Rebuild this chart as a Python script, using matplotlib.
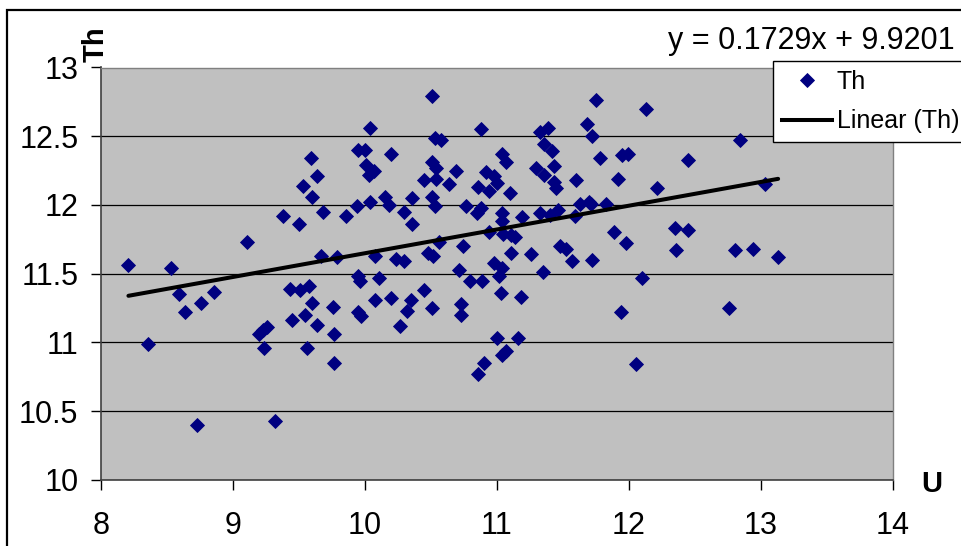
import matplotlib
matplotlib.use("Agg")
import matplotlib.pyplot as plt
from matplotlib.lines import Line2D
from matplotlib.patches import Rectangle
import numpy as np

plt.rcParams['font.family'] = ['Liberation Sans', 'DejaVu Sans']

u_values = [
    9.59, 9.64, 9.53, 9.60, 9.68, 9.38, 9.50, 9.11, 9.67, 9.79,
    8.21, 8.53, 8.59, 8.64, 8.76, 8.86, 8.36, 9.43, 9.51, 9.58, 9.60, 9.55, 9.45, 9.64,
    9.20, 9.23, 9.26, 9.24, 9.56, 8.73, 9.32,
    10.51, 10.04, 10.88, 11.33, 11.39, 10.53, 10.58, 9.95, 10.00, 10.20, 11.04, 11.07,
    11.36, 11.42, 10.51, 10.54, 10.01, 10.07, 10.03, 10.69, 11.30, 11.36, 11.43, 10.45,
    10.54, 10.92, 10.98, 11.00, 10.64, 10.86, 10.94, 11.10, 11.43, 11.45, 10.15, 10.18,
    10.36, 10.51, 10.53, 10.04, 9.94, 9.86, 10.30, 10.36, 10.77, 10.85, 10.88, 11.04,
    11.04, 11.19, 11.33, 11.40, 11.46, 10.94, 11.05, 11.11, 11.14, 10.56, 10.74, 11.48,
    10.08, 10.24, 10.30, 10.48, 10.52, 11.11, 11.26, 10.98,
    11.04, 11.02, 10.71, 10.80, 10.89, 11.35, 9.95, 9.96, 10.11, 10.45, 11.03, 11.18,
    10.08, 10.20, 10.35, 10.32, 9.76, 9.95, 9.97, 10.51, 10.73, 10.73, 10.27, 9.77,
    11.00, 11.16, 11.07, 11.04, 9.77, 10.90, 10.86,
    11.75, 12.13, 11.68, 11.72, 12.84, 11.78, 11.95, 11.99, 12.45, 11.60, 11.92, 12.21,
    13.03, 11.63, 11.70, 11.71, 11.83, 11.59, 11.89, 11.98, 12.35, 12.45, 11.52, 11.57,
    11.72, 12.36, 12.80, 12.94, 13.13,
    12.10, 11.94, 12.76, 12.05,
]
th_values = [
    12.34, 12.21, 12.14, 12.06, 11.95, 11.92, 11.86, 11.73, 11.63, 11.62,
    11.56, 11.54, 11.35, 11.22, 11.29, 11.37, 10.99, 11.39, 11.38, 11.41, 11.29, 11.20,
    11.16, 11.13, 11.06, 11.09, 11.11, 10.96, 10.96, 10.40, 10.43,
    12.79, 12.56, 12.55, 12.53, 12.56, 12.49, 12.47, 12.40, 12.40, 12.37, 12.37, 12.31,
    12.44, 12.39, 12.31, 12.27, 12.29, 12.25, 12.22, 12.25, 12.27, 12.22, 12.28, 12.18,
    12.19, 12.24, 12.21, 12.16, 12.15, 12.13, 12.10, 12.09, 12.17, 12.12, 12.06, 12.00,
    12.05, 12.06, 11.99, 12.02, 11.99, 11.92, 11.95, 11.86, 11.99, 11.94, 11.98, 11.94,
    11.88, 11.91, 11.94, 11.93, 11.96, 11.80, 11.79, 11.78, 11.77, 11.73, 11.70, 11.70,
    11.63, 11.61, 11.59, 11.65, 11.63, 11.65, 11.64, 11.58,
    11.54, 11.48, 11.53, 11.45, 11.45, 11.51, 11.48, 11.45, 11.47, 11.38, 11.36, 11.33,
    11.31, 11.32, 11.31, 11.23, 11.26, 11.22, 11.19, 11.25, 11.28, 11.20, 11.12, 11.06,
    11.03, 11.03, 10.94, 10.91, 10.85, 10.85, 10.77,
    12.76, 12.70, 12.59, 12.50, 12.47, 12.34, 12.36, 12.37, 12.33, 12.18, 12.19, 12.12,
    12.15, 12.01, 12.02, 12.01, 12.01, 11.92, 11.80, 11.72, 11.83, 11.82, 11.68, 11.59,
    11.60, 11.67, 11.67, 11.68, 11.62,
    11.47, 11.22, 11.25, 10.84,
]
trend_slope = 0.1729
trend_intercept = 9.9201
x_ticks = [8, 9, 10, 11, 12, 13, 14]
y_ticks = [10, 10.5, 11, 11.5, 12, 12.5, 13]
y_tick_labels = ['10', '10.5', '11', '11.5', '12', '12.5', '13']

W, H = 961, 546
fig = plt.figure(figsize=(W / 100, H / 100), dpi=100)
fig.patch.set_facecolor('white')

# outer chart border (extends beyond the visible crop on right/bottom)
fig.patches.append(Rectangle((7 / W, -0.2), 1.5, 1.2 - 10 / H, transform=fig.transFigure,
                             fill=False, edgecolor='black', linewidth=1.6, zorder=0))

ax = fig.add_axes([100.7 / W, 1 - 480 / H, (893 - 100.7) / W, (480 - 67.5) / H])
ax.set_facecolor('#C0C0C0')
ax.set_xlim(8, 14)
ax.set_ylim(10, 13)
ax.set_xticks(x_ticks)
ax.set_yticks(y_ticks)
ax.set_yticklabels(y_tick_labels)
ax.grid(axis='y', color='black', linewidth=0.9)
ax.set_axisbelow(True)
ax.tick_params(axis='both', direction='out', length=7, width=1, labelsize=22, colors='black')
ax.tick_params(axis='x', pad=15)
ax.tick_params(axis='y', pad=9)
for s in ['top', 'right']:
    ax.spines[s].set_color('#808080')
    ax.spines[s].set_linewidth(1.0)
for s in ['left', 'bottom']:
    ax.spines[s].set_color('#404040')
    ax.spines[s].set_linewidth(1.2)

ax.plot(u_values, th_values, linestyle='none', marker='D', markersize=7.0,
        color='#000080', markeredgecolor='#000080', markeredgewidth=0.6, zorder=3)

xl = np.array([min(u_values), max(u_values)])
ax.plot(xl, trend_slope * xl + trend_intercept, color='black', linewidth=2.9,
        solid_capstyle='round', zorder=4)

fig.text(955 / W, 1 - 41 / H, f'y = {trend_slope}x + {trend_intercept}', ha='right',
         va='center', fontsize=22)
fig.text(932 / W, 1 - 484 / H, 'U', ha='center', va='center', fontsize=21, fontweight='bold')
fig.text(96 / W, 1 - 44 / H, 'Th', ha='center', va='center', fontsize=21,
         fontweight='bold', rotation=90)

handles = [
    Line2D([], [], linestyle='none', marker='D', markersize=7.0, color='#000080',
           markeredgewidth=0.6),
    Line2D([], [], color='black', linewidth=2.9),
]
leg = fig.legend(handles, ['Th', 'Linear (Th)'], loc='upper left',
                 bbox_to_anchor=(773 / W, 1 - 61 / H), fontsize=18, frameon=True,
                 fancybox=False, edgecolor='black', framealpha=1, handlelength=2.0,
                 handletextpad=0.2, borderpad=0.35, labelspacing=0.62, borderaxespad=0)
leg.get_frame().set_linewidth(1.0)

fig.savefig('out.png', dpi=100, facecolor='white')
